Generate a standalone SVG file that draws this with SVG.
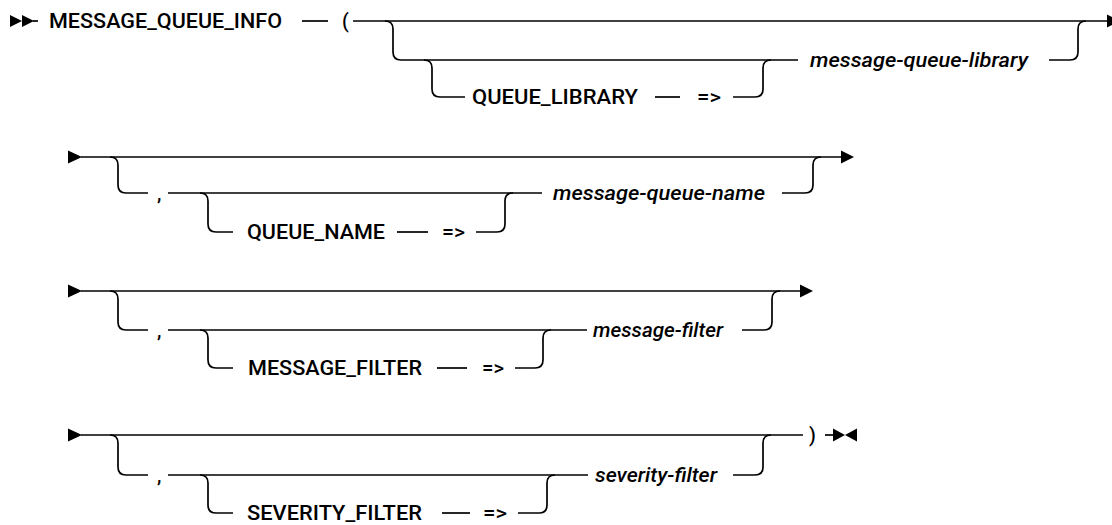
<svg xmlns="http://www.w3.org/2000/svg" width="1112" height="525" viewBox="0 0 1112 525">
<style>
.ln{fill:none;stroke:#000;stroke-width:1.7}
.kw{font-family:Roboto,"Liberation Sans",Arial,sans-serif;font-size:19.5px;font-weight:500;fill:#000}
.var{font-family:Roboto,"Liberation Sans",Arial,sans-serif;font-size:19.5px;font-weight:500;font-style:italic;fill:#000}
.mk{fill:#000}
</style>
<rect width="1112" height="525" fill="#fff"/>
<g id="connectors">
<path class="ln" d="M33,21 L38,21"/>
<path class="ln" d="M302,21 L328,21"/>
<path class="ln" d="M353,21 L1108,21"/>
<path class="ln" d="M385,21 Q393,21 393,29 L393,52 Q393,60 401,60 L798,60"/>
<path class="ln" d="M424,60 Q432,60 432,68 L432,89 Q432,97 440,97 L465,97"/>
<path class="ln" d="M655,97 L680,97"/>
<path class="ln" d="M733,97 L755,97 Q763,97 763,89 L763,68 Q763,60 771,60"/>
<path class="ln" d="M1049,60 L1070,60 Q1078,60 1078,52 L1078,29 Q1078,21 1086,21"/>
<path class="ln" d="M81,157 L842,157"/>
<path class="ln" d="M110,157 Q118,157 118,165 L118,185 Q118,193 126,193 L148,193"/>
<path class="ln" d="M168,193 L542,193"/>
<path class="ln" d="M200,193 Q208,193 208,201 L208,224 Q208,232 216,232 L233,232"/>
<path class="ln" d="M397,232 L428,232"/>
<path class="ln" d="M476,232 L497,232 Q505,232 505,224 L505,201 Q505,193 513,193"/>
<path class="ln" d="M782,193 L805,193 Q813,193 813,185 L813,165 Q813,157 821,157"/>
<path class="ln" d="M81,291 L801,291"/>
<path class="ln" d="M110,291 Q118,291 118,299 L118,322 Q118,330 126,330 L148,330"/>
<path class="ln" d="M168,330 L587,330"/>
<path class="ln" d="M200,330 Q208,330 208,338 L208,360 Q208,368 216,368 L233,368"/>
<path class="ln" d="M437,368 L467,368"/>
<path class="ln" d="M515,368 L535,368 Q543,368 543,360 L543,338 Q543,330 551,330"/>
<path class="ln" d="M742,330 L764,330 Q772,330 772,322 L772,299 Q772,291 780,291"/>
<path class="ln" d="M81,435 L803,435"/>
<path class="ln" d="M110,435 Q118,435 118,443 L118,467 Q118,475 126,475 L148,475"/>
<path class="ln" d="M168,475 L588,475"/>
<path class="ln" d="M200,475 Q208,475 208,483 L208,505 Q208,513 216,513 L233,513"/>
<path class="ln" d="M442,513 L470,513"/>
<path class="ln" d="M518,513 L539,513 Q547,513 547,505 L547,483 Q547,475 555,475"/>
<path class="ln" d="M733,475 L755,475 Q763,475 763,467 L763,443 Q763,435 771,435"/>
<path class="ln" d="M825,435 L840,435"/>
</g>
<g id="markers">
<polygon class="mk" points="10,15 22,21 10,27"/>
<polygon class="mk" points="22,15 34,21 22,27"/>
<polygon class="mk" points="1107,14.5 1120,21 1107,27.5"/>
<polygon class="mk" points="68,150.5 82,157 68,163.5"/>
<polygon class="mk" points="841,150.5 854,157 841,163.5"/>
<polygon class="mk" points="68,284.5 82,291 68,297.5"/>
<polygon class="mk" points="800,284.5 813,291 800,297.5"/>
<polygon class="mk" points="68,428.5 82,435 68,441.5"/>
<polygon class="mk" points="833,428.5 845,435 833,441.5"/>
<polygon class="mk" points="857,428.5 845,435 857,441.5"/>
</g>
<g id="row1">
<text class="kw" x="49" y="28" textLength="233" lengthAdjust="spacingAndGlyphs">MESSAGE_QUEUE_INFO</text>
<text class="kw" x="342" y="28">(</text>
<text class="kw" x="472" y="104" textLength="166" lengthAdjust="spacingAndGlyphs">QUEUE_LIBRARY</text>
<text class="kw" x="697" y="104" textLength="24" lengthAdjust="spacingAndGlyphs">=&gt;</text>
<text class="var" x="810" y="67" textLength="218" lengthAdjust="spacingAndGlyphs">message-queue-library</text>
</g>
<g id="row2">
<text class="kw" x="157" y="200">,</text>
<text class="kw" x="247" y="239" textLength="138" lengthAdjust="spacingAndGlyphs">QUEUE_NAME</text>
<text class="kw" x="442" y="239" textLength="23" lengthAdjust="spacingAndGlyphs">=&gt;</text>
<text class="var" x="553" y="200" textLength="212" lengthAdjust="spacingAndGlyphs">message-queue-name</text>
</g>
<g id="row3">
<text class="kw" x="157" y="337">,</text>
<text class="kw" x="248" y="375" textLength="174" lengthAdjust="spacingAndGlyphs">MESSAGE_FILTER</text>
<text class="kw" x="482" y="375" textLength="22" lengthAdjust="spacingAndGlyphs">=&gt;</text>
<text class="var" x="593" y="337" textLength="130" lengthAdjust="spacingAndGlyphs">message-filter</text>
</g>
<g id="row4">
<text class="kw" x="157" y="482">,</text>
<text class="kw" x="247" y="520" textLength="175" lengthAdjust="spacingAndGlyphs">SEVERITY_FILTER</text>
<text class="kw" x="483" y="520" textLength="24" lengthAdjust="spacingAndGlyphs">=&gt;</text>
<text class="var" x="595" y="482" textLength="122" lengthAdjust="spacingAndGlyphs">severity-filter</text>
<text class="kw" x="809" y="442">)</text>
</g>
</svg>
